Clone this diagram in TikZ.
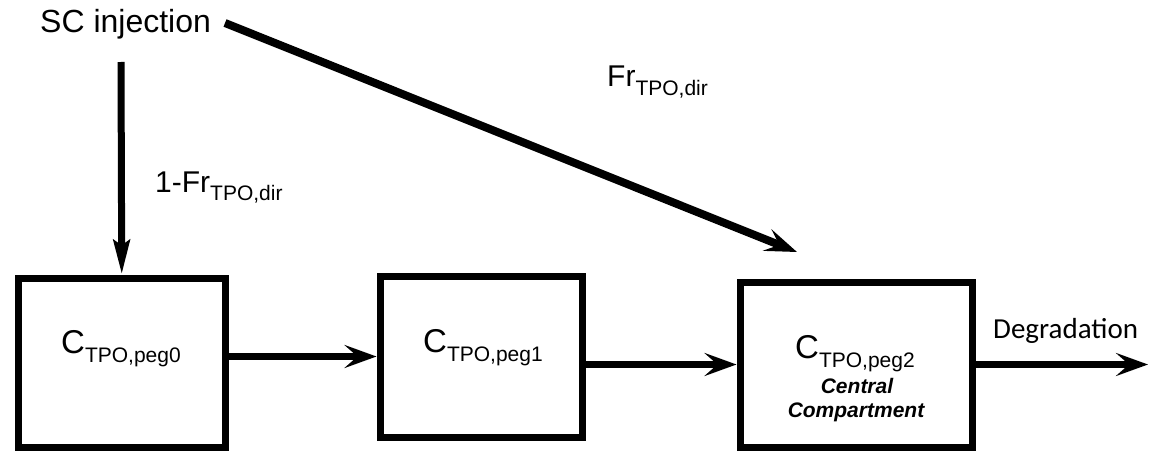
\documentclass[tikz,border=0pt]{standalone}
\usepackage{fontspec}
\setmainfont{Liberation Sans}
\newfontfamily\degfont{Carlito}
\usetikzlibrary{arrows.meta}
\newcommand\mysub[2][9pt]{\raisebox{-#1}{\fontsize{21}{21}\selectfont #2}}
\begin{document}
\begin{tikzpicture}[x=1pt,y=-1pt,
  box/.style={draw,line width=7pt,inner sep=0pt},
  arr/.style={line width=7pt,-{Stealth[length=32pt,width=23pt,inset=13pt]}},
  varr/.style={line width=7pt,-{Stealth[length=34pt,width=16pt,inset=5pt]}},
  txt/.style={inner sep=0pt,anchor=base west,font=\fontsize{30}{30}\selectfont},
  cc/.style={inner sep=0pt,anchor=base,font=\bfseries\itshape\fontsize{21}{21}\selectfont}]
\useasboundingbox (0,0) rectangle (1157,452);
% boxes
\node[box,minimum width=206.5pt,minimum height=169pt] (b0) at (121.75,362.5) {};
\node[box,minimum width=202pt,minimum height=161pt] (b1) at (481,356.5) {};
\node[box,minimum width=232pt,minimum height=165pt] (b2) at (856,364.5) {};
% labels
\node[txt,font=\fontsize{32}{32}\selectfont] (sc) at (40,33) {SC injection};
\node[txt] (f1) at (155,192) {1-Fr\mysub[8pt]{TPO,dir}};
\node[txt] (f2) at (607,87) {Fr\mysub{TPO,dir}};
\node[txt,font=\fontsize{33}{33}\selectfont] (l0) at (61,353) {C\mysub{TPO,peg0}};
\node[txt,font=\fontsize{33}{33}\selectfont] (l1) at (423,352) {C\mysub{TPO,peg1}};
\node[txt,font=\fontsize{33}{33}\selectfont] (l2) at (795,358) {C\mysub{TPO,peg2}};
\node[cc] (cc1) at (857,393) {Central};
\node[cc] (cc2) at (856,417) {Compartment};
\node[txt,font=\degfont\fontsize{29}{29}\selectfont] (deg) at (993,338) {Degradation};
% coordinates
\coordinate (vstart) at (121,62);
\coordinate (dstart) at (225,23);
\coordinate (dend) at (797,252);
\coordinate (degend) at (1148,364.5);
% connectors
\draw[varr] (vstart) -- (b0.north);
\draw[arr,line width=8pt] (dstart) -- (dend);
\draw[arr] (b0.east |- b1.west) -- (b1.west);
\draw[arr] (b1.east |- b2.west) -- (b2.west);
\draw[arr] (b2.east) -- (degend);
\end{tikzpicture}
\end{document}
